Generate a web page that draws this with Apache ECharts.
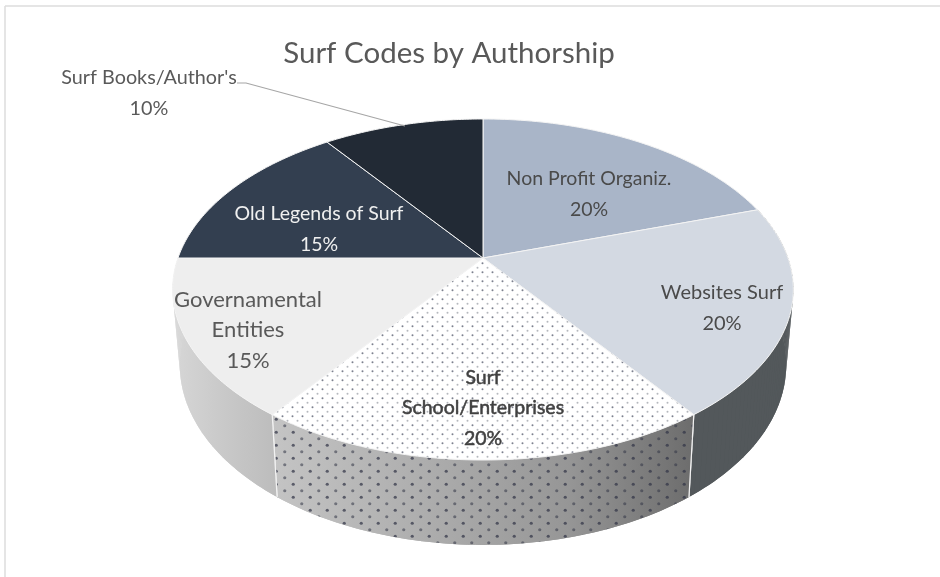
<!DOCTYPE html>
<html>
<head>
<meta charset="utf-8">
<style>html,body{margin:0;padding:0;background:#fff}#c{width:940px;height:577px}</style>
<script src="https://cdn.jsdelivr.net/npm/echarts@6/dist/echarts.min.js"></script>
</head>
<body>
<div id="c"></div>
<script>
// ---- data ----
var categories = ["Non Profit Organiz.", "Websites Surf", "Surf\nSchool/Enterprises", "Governamental\nEntities", "Old Legends of Surf", "Surf Books/Author's"];
var shares = [20, 20, 20, 15, 15, 10];
var chartTitle = "Surf Codes by Authorship";

// ---- layout and styling ----
var topColors = ["#A9B5C8", "#D3D9E2", "#FFFFFF", "#EEEEEE", "#333F50", "#222A35"];
var labelColors = ["#4a4a4a", "#4a4a4a", "#404040", "#595959", "#F0F0F0", "#595959"];
var labelAnchors = [[589, 194], [722, 308], [483, 408], [248, 330], [319, 229], [149, 93]];
var labelSizes = [19.5, 20, 19.5, 22, 19.5, 19.8];
var leaderPath = [[237, 83], [246, 83], [405, 126]];
var topPlane = {cx: 483, cy: 258, rx: 305, ry: 164.7, k: 0.1847};
var basePlane = {cx: 483, cy: 331.5, rx: 298, ry: 174, k: 0.1847};
var FONT = 'Lato, "Open Sans", sans-serif';

var total = shares.reduce(function (a, b) { return a + b; }, 0);
var starts = [], run = 0;
shares.forEach(function (s) { starts.push(run / total * Math.PI * 2); run += s; });

function project(p, a) {
  var X = Math.sin(a), Y = Math.cos(a), w = 1 + p.k * Y;
  return [p.cx + p.rx * X / w, p.cy - p.ry * Y / w];
}
function arc(p, a0, a1) {
  var n = 60, out = [];
  for (var i = 0; i <= n; i++) out.push(project(p, a0 + (a1 - a0) * i / n));
  return out;
}
function dots(w, h, list) {
  var c = document.createElement('canvas');
  c.width = w; c.height = h;
  var g = c.getContext('2d');
  list.forEach(function (d) {
    g.fillStyle = d[3];
    g.beginPath(); g.arc(d[0], d[1], d[2], 0, 7); g.fill();
  });
  return c;
}
var topDots = dots(10, 9, [
  [2.5, 2.25, 1.0, 'rgba(70,75,95,0.7)'],
  [7.5, 6.75, 1.0, 'rgba(120,125,135,0.55)']
]);
var wallDots = dots(17, 13, [
  [4.25, 3.25, 1.6, 'rgba(50,52,70,0.72)'],
  [12.75, 9.75, 1.6, 'rgba(50,52,70,0.55)']
]);
function hGrad(x0, x1, stops) {
  return {type: 'linear', x: x0, y: 0, x2: x1, y2: 0, global: true,
    colorStops: stops.map(function (s) { return {offset: s[0], color: s[1]}; })};
}
var wallFills = {
  1: '#53585B',
  2: hGrad(273, 695, [[0, '#c4c4c4'], [0.35, '#aeaeae'], [0.7, '#969696'], [1, '#6c6c6c']]),
  3: hGrad(175, 278, [[0, '#d6d6d6'], [0.5, '#c8c8c8'], [1, '#bcbcbc']])
};

var chart = echarts.init(document.getElementById('c'), null, {renderer: 'canvas'});
var source = categories.map(function (c, i) { return [shares[i], c, i]; });

function endOf(i) { return i + 1 < starts.length ? starts[i + 1] : Math.PI * 2; }

chart.setOption({
  animation: false,
  backgroundColor: '#ffffff',
  title: {
    text: chartTitle, left: 444, top: 33, textAlign: 'center',
    textStyle: {fontFamily: FONT, fontWeight: 'normal', fontSize: 29.5, color: '#595959'}
  },
  graphic: [
    {type: 'line', z: 0, shape: {x1: 5, y1: 6, x2: 940, y2: 6}, style: {stroke: '#dcdcdc', lineWidth: 1.5}},
    {type: 'line', z: 0, shape: {x1: 5, y1: 6, x2: 5, y2: 577}, style: {stroke: '#dcdcdc', lineWidth: 1.5}}
  ],
  series: [
    { // side walls
      type: 'custom', coordinateSystem: 'none', z: 1, silent: true,
      data: source,
      renderItem: function (params, api) {
        var i = params.dataIndex, fill = wallFills[i];
        if (!fill) return {type: 'group', children: []};
        var a0 = starts[i], a1 = endOf(i);
        var t = arc(topPlane, a0, a1), b = arc(basePlane, a0, a1);
        var strip = t.concat(b.slice().reverse());
        var children = [{type: 'polygon', shape: {points: strip}, style: {fill: fill}}];
        for (var j = 0; j < t.length - 1; j++) {
          children.push({type: 'polygon',
            shape: {points: [t[j], t[j + 1], b[j + 1], b[j]]},
            style: {fill: fill}});
        }
        if (i === 2) {
          children.push({type: 'polygon', shape: {points: strip},
            style: {fill: {image: wallDots, repeat: 'repeat'}}});
        }
        children.push({type: 'line', shape: {x1: t[0][0], y1: t[0][1], x2: b[0][0], y2: b[0][1]},
          style: {stroke: '#f2f2f2', lineWidth: i === 1 ? 0 : 1.2}});
        children.push({type: 'line', shape: {x1: t[60][0], y1: t[60][1], x2: b[60][0], y2: b[60][1]},
          style: {stroke: '#f2f2f2', lineWidth: 1.2}});
        return {type: 'group', children: children};
      }
    },
    { // top face
      type: 'custom', coordinateSystem: 'none', z: 2, silent: true,
      data: source,
      renderItem: function (params, api) {
        var i = params.dataIndex;
        var pts = [[topPlane.cx, topPlane.cy]].concat(arc(topPlane, starts[i], endOf(i)));
        var children = [{type: 'polygon', shape: {points: pts},
          style: {fill: topColors[i], stroke: '#f4f4f4', lineWidth: 1}}];
        if (i === 2) {
          children.push({type: 'polygon', shape: {points: pts},
            style: {fill: {image: topDots, repeat: 'repeat'}}});
        }
        return {type: 'group', children: children};
      }
    },
    { // labels
      type: 'custom', coordinateSystem: 'none', z: 3, silent: true,
      data: source,
      renderItem: function (params, api) {
        var i = params.dataIndex, pos = labelAnchors[i];
        var txt = categories[i] + '\n' + api.value(0) + '%';
        var style = {text: txt, fill: labelColors[i], font: labelSizes[i] + 'px ' + FONT,
          align: 'center', verticalAlign: 'middle', lineHeight: 30.5};
        if (i === 2) { style.stroke = labelColors[i]; style.lineWidth = 0.5; }
        var children = [{type: 'text', x: pos[0], y: pos[1], style: style}];
        if (i === 5) {
          children.push({type: 'polyline', shape: {points: leaderPath},
            style: {stroke: '#a6a6a6', lineWidth: 1.2, fill: 'none'}});
        }
        return {type: 'group', children: children};
      }
    }
  ]
});
</script>
</body>
</html>
